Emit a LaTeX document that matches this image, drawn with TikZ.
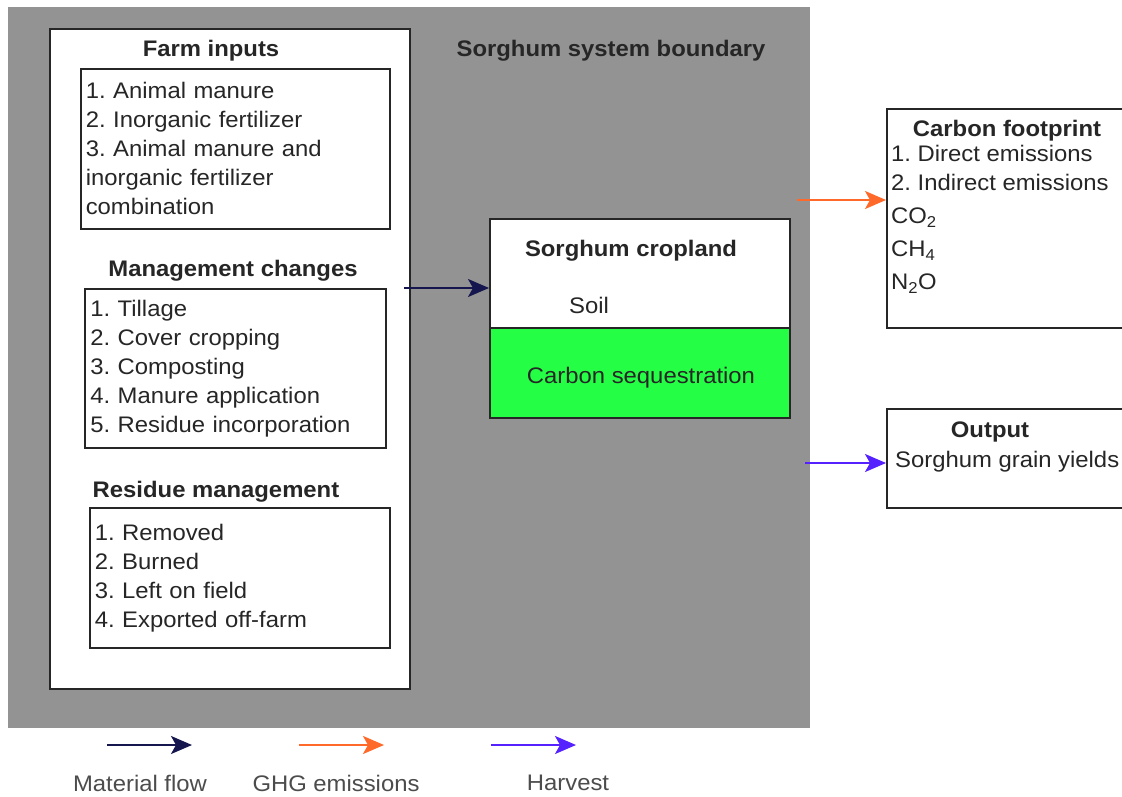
\documentclass[tikz,border=0pt]{standalone}
\usepackage{fontspec}
\setmainfont{Liberation Sans}[FakeStretch=1.06]
\usepackage{tikz}
\usetikzlibrary{arrows.meta,positioning}
\definecolor{boundgray}{HTML}{939393}
\definecolor{seqgreen}{HTML}{24FF46}
\definecolor{flownavy}{HTML}{16164E}
\definecolor{ghgorange}{HTML}{FF6A2A}
\definecolor{harvblue}{HTML}{5522FF}
\definecolor{txtgray}{HTML}{262626}
\frenchspacing
\tikzset{
  box/.style={draw=black!85,line width=1.6pt,fill=white,inner xsep=5pt,align=left,text=txtgray},
  head/.style={font=\fontsize{22.5}{29}\selectfont\bfseries,text=txtgray},
  plain/.style={font=\fontsize{22.5}{29}\selectfont,text=txtgray},
  arr/.style={line width=1.8pt,-{Stealth[length=21pt,width=18pt,inset=5pt]}}
}
\begin{document}
\begin{tikzpicture}[x=1pt,y=-1pt]
        \useasboundingbox (0,0) rectangle (1122,797);
        \fill[white] (0,0) rectangle (1122,797);
        % system boundary
        \node[fill=boundgray,minimum width=802pt,minimum height=721pt,anchor=north west,inner sep=0pt] (boundary) at (8,7) {};
        \node[head] (boundlbl) at (611,51) {Sorghum system boundary};
        % left panel
        \node[box,minimum width=360pt,minimum height=660pt,anchor=north west,inner sep=0pt] (panel) at (49,28) {};
        \node[head] (farmlbl) at (211,51) {Farm inputs};
        \node[box,plain,anchor=north west,minimum width=309pt,minimum height=160pt,text width=299pt] (farm) at (80,68)
          {1. Animal manure\\2. Inorganic fertilizer\\3. Animal manure and\\inorganic fertilizer\\combination};
        \node[head] (mgmtlbl) at (233,271) {Management changes};
        \node[box,plain,anchor=north west,minimum width=301pt,minimum height=159pt,text width=290pt] (mgmt) at (84,288)
          {1. Tillage\\2. Cover cropping\\3. Composting\\4. Manure application\\5. Residue incorporation};
        \node[head] (reslbl) at (216,492) {Residue management};
        \node[box,plain,anchor=north west,minimum width=300pt,minimum height=140pt,text width=290pt] (resid) at (89,507)
          {1. Removed\\2. Burned\\3. Left on field\\4. Exported off-farm};
        % cropland
        \node[box,minimum width=300pt,minimum height=109pt,anchor=north west,inner sep=0pt] (cropland) at (489,218) {};
        \node[box,fill=seqgreen,minimum width=300pt,minimum height=90pt,anchor=north west,inner sep=0pt] (seq) at (489,327) {};
        \node[head] (croplbl) at (631,251) {Sorghum cropland};
        \node[plain] (soil) at (589,305) {Soil};
        \node[plain] (seqlbl) at (641,378) {Carbon sequestration};
        % outputs
        \node[box,minimum width=250pt,minimum height=219pt,anchor=north west,inner sep=0pt] (footprint) at (886,108) {};
        \node[head] (footlbl) at (1007,131) {Carbon footprint};
        \node[plain,anchor=north west,inner sep=0pt,align=left] (footlist) at (891,145)
          {1. Direct emissions\\2. Indirect emissions\\[4pt]CO\textsubscript{2}\\[4pt]CH\textsubscript{4}\\[4pt]N\textsubscript{2}O};
        \node[box,minimum width=250pt,minimum height=99pt,anchor=north west,inner sep=0pt] (output) at (886,408) {};
        \node[head] (outlbl) at (990,432) {Output};
        \node[plain,anchor=west,inner sep=0pt] (yields) at (895,462) {Sorghum grain yields};
        % flows
        \coordinate (mfstart) at (404,288);
        \coordinate (ghgstart) at (797,200);
        \coordinate (harvstart) at (805,463);
        \draw[arr,flownavy] (mfstart) -- (cropland.west |- mfstart);
        \draw[arr,ghgorange] (ghgstart) -- (footprint.west |- ghgstart);
        \draw[arr,harvblue] (harvstart) -- (output.west |- harvstart);
        % legend
        \coordinate (l1a) at (107,745); \coordinate (l1b) at (192,745);
        \coordinate (l2a) at (299,745); \coordinate (l2b) at (384,745);
        \coordinate (l3a) at (491,745); \coordinate (l3b) at (576,745);
        \draw[arr,flownavy] (l1a) -- (l1b);
        \draw[arr,ghgorange] (l2a) -- (l2b);
        \draw[arr,harvblue] (l3a) -- (l3b);
        \node[plain,text=black!70] (leg1) at (140,783) {Material flow};
        \node[plain,text=black!70] (leg2) at (336,783) {GHG emissions};
        \node[plain,text=black!70] (leg3) at (568,783) {Harvest};
      \end{tikzpicture}
\end{document}
